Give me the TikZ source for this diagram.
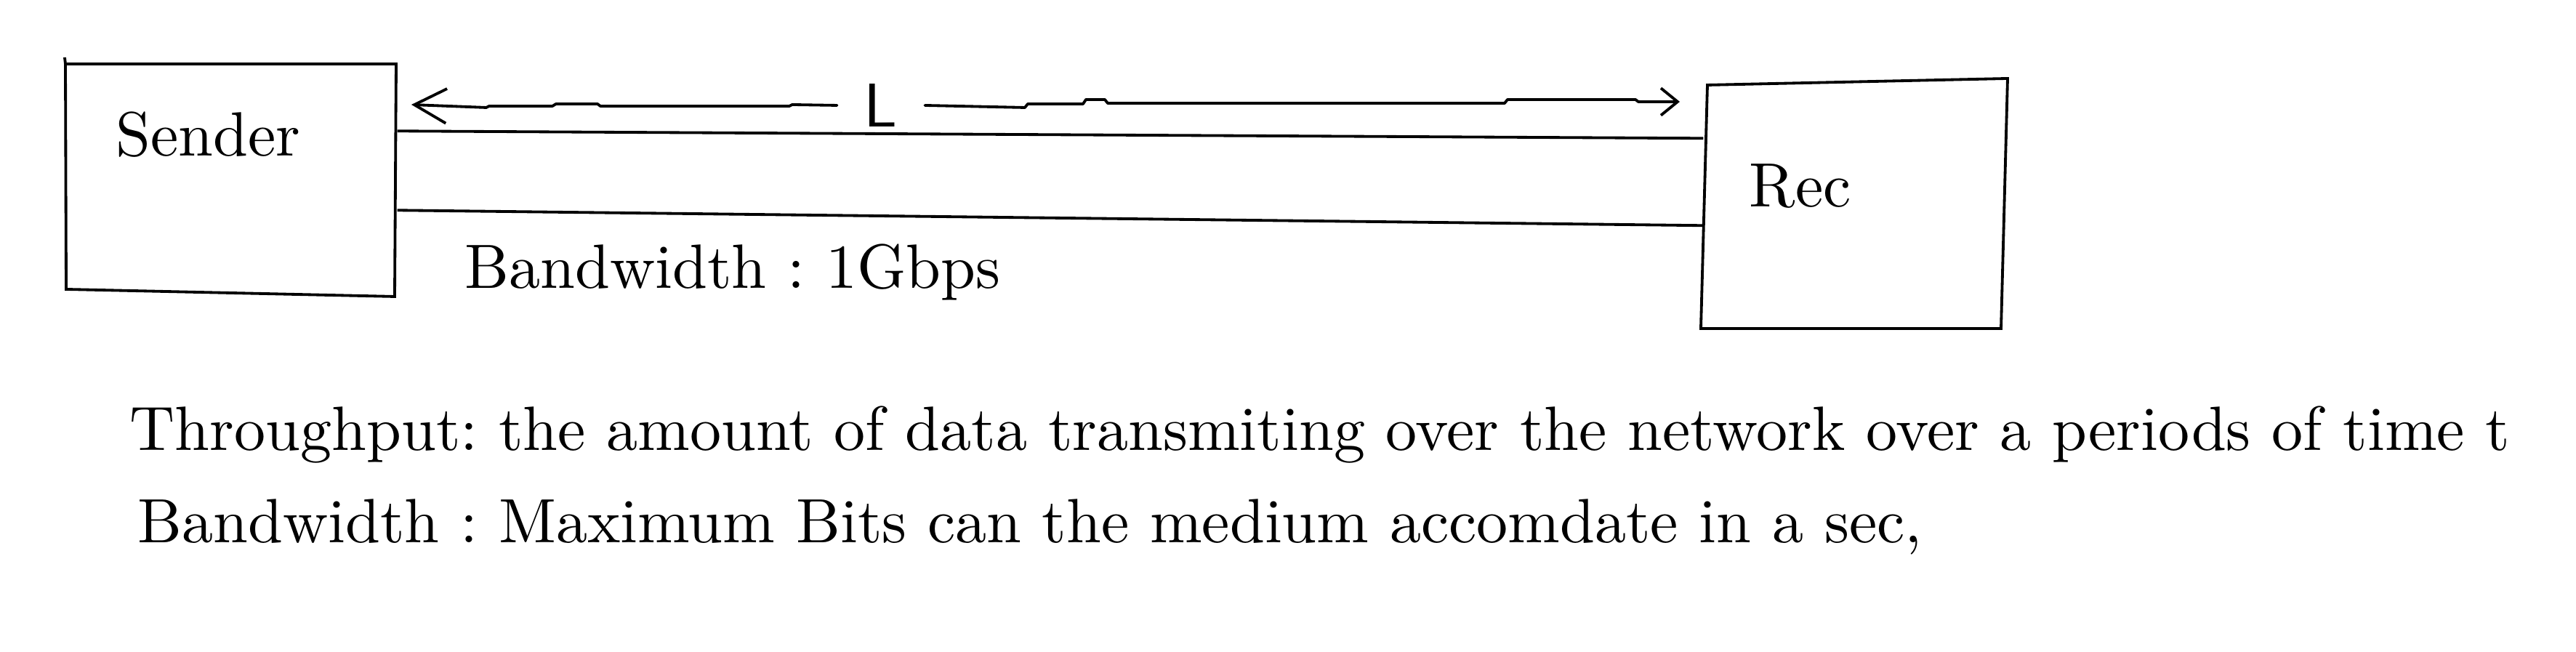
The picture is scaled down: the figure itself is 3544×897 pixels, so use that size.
\documentclass[tikz,border=0pt]{standalone}
\usetikzlibrary{arrows.meta,calc}
\begin{document}
\frenchspacing
\begin{tikzpicture}[x=0.11765pt,y=-0.11765pt,
  box/.style={rectangle,inner sep=0pt},
  outline/.style={line width=0.45pt,line join=miter},
  lbl/.style={inner sep=0pt,anchor=base west,font=\fontsize{10.13}{12}\selectfont},
  chan/.style={line width=0.45pt},
  harrow/.style={line width=0.45pt,line join=round,line cap=round}]
\useasboundingbox (0,0) rectangle (3544,897);
% boxes (named nodes, hand-drawn outlines)
\node[box,minimum width=53.53pt,minimum height=37.18pt] (sender) at (317.5,246) {};
\node[box,minimum width=48.59pt,minimum height=40.0pt] (rec) at (2551.5,282) {};
\draw[outline] (89,79) -- (90,88) -- (545,88) -- (543,408) -- (91,398) -- (90,88);
\draw[outline] (2349,117) -- (2762,108) -- (2753,452) -- (2340,452) -- cycle;
\node[lbl] (sendertxt) at (158,215) {Sender};
\node[lbl] (rectxt) at (2405,285) {Rec};
% channel
\draw[chan] ($(sender.north east)+(0,94)$) -- ($(rec.north west)+(0,80)$);
\draw[chan] ($(sender.north east)+(0,203)$) -- ($(rec.north west)+(0,200)$);
\node[lbl] (bwlbl) at (638,397) {Bandwidth : 1Gbps};
% length arrow
\node[inner sep=4.2pt,font=\sffamily] (L) at (1212,145) {L};
\coordinate (ltip) at (566,144);
\coordinate (rtip) at (2311,140);
\draw[harrow,-{Straight Barb[length=5.2pt,width=5.6pt]}] (L.west) -- (1090,144) -- (1086,146) -- (826,146) -- (822,143) -- (765,143) -- (760,146) -- (673,146) -- (669,148) -- (ltip);
\draw[harrow,-{Straight Barb[length=2.7pt,width=4.4pt]}] (L.east) -- (1410,148) -- (1414,143) -- (1490,143) -- (1494,137) -- (1520,137) -- (1524,142) -- (2070,142) -- (2074,137) -- (2250,137) -- (2254,140) -- (rtip);
% definitions
\node[lbl] (tp) at (177,620) {Throughput: the amount of data transmiting over the network over a periods of time t};
\node[lbl] (bw) at (188,747) {Bandwidth : Maximum Bits can the medium accomdate in a sec,};
\end{tikzpicture}
\end{document}
